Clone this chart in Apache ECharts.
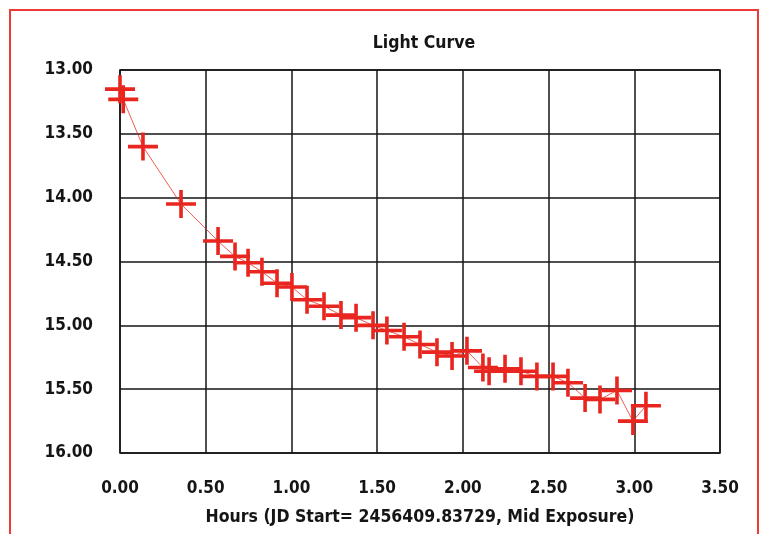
<!DOCTYPE html>
<html>
<head>
<meta charset="utf-8">
<title>Light Curve</title>
<script src="https://cdn.jsdelivr.net/npm/echarts@6/dist/echarts.min.js"></script>
<style>
  html, body { margin: 0; padding: 0; background: #ffffff; }
  #chart { width: 766px; height: 534px; }
</style>
</head>
<body>
<div id="chart"></div>
<script>
// Observation times (hours from JD start) and measured magnitudes
const hours = [
  0.000, 0.019, 0.134, 0.356, 0.572, 0.671, 0.747, 0.828, 0.916, 1.003,
  1.091, 1.190, 1.289, 1.377, 1.476, 1.557, 1.657, 1.750, 1.849, 1.937,
  2.024, 2.117, 2.153, 2.246, 2.339, 2.432, 2.526, 2.613, 2.713, 2.800,
  2.899, 2.992, 3.068
];
const magnitudes = [
  13.15, 13.23, 13.60, 14.05, 14.34, 14.46, 14.51, 14.58, 14.67, 14.70,
  14.80, 14.85, 14.92, 14.94, 15.00, 15.04, 15.09, 15.15, 15.21, 15.24,
  15.20, 15.33, 15.36, 15.34, 15.36, 15.40, 15.40, 15.45, 15.57, 15.58,
  15.51, 15.75, 15.63
];
const xTicks = ['0.00', '0.50', '1.00', '1.50', '2.00', '2.50', '3.00', '3.50'];
const yTicks = ['13.00', '13.50', '14.00', '14.50', '15.00', '15.50', '16.00'];

const titleText = 'Light Curve';
const xAxisName = 'Hours (JD Start= 2456409.83729, Mid Exposure)';

const FONT = '"DejaVu Sans Condensed", "Liberation Sans Narrow", "DejaVu Sans", sans-serif';
const RED = '#e8261f';
const INK = '#151515';

// Plus-shaped marker built from two filled bars
const plusPath = 'path://M0,12.2h30v3.6h-30z M13.2,0h3.6v28h-3.6z';

const chart = echarts.init(document.getElementById('chart'), null, { renderer: 'canvas' });

const points = hours.map((h, i) => [h, magnitudes[i]]);

chart.setOption({
  backgroundColor: '#ffffff',
  animation: false,
  title: {
    text: titleText,
    left: 419,
    textAlign: 'center',
    top: 29,
    textStyle: { fontFamily: FONT, fontWeight: 'bold', fontSize: 17.5, color: INK }
  },
  grid: { left: 120, right: 46, top: 70, bottom: 81, show: true, borderColor: INK, borderWidth: 1.5 },
  xAxis: {
    type: 'value',
    min: 0,
    max: 3.5,
    interval: 0.5,
    name: xAxisName,
    nameLocation: 'middle',
    nameGap: 55,
    nameTextStyle: { fontFamily: FONT, fontWeight: 'bold', fontSize: 17.5, color: INK },
    axisLine: { show: false },
    axisTick: { show: false },
    splitLine: { show: true, lineStyle: { color: INK, width: 1.5 } },
    axisLabel: {
      margin: 27,
      fontFamily: FONT, fontWeight: 'bold', fontSize: 17, color: INK,
      formatter: v => xTicks[Math.round(v / 0.5)]
    }
  },
  yAxis: {
    type: 'value',
    inverse: true,
    min: 13,
    max: 16,
    interval: 0.5,
    axisLine: { show: false },
    axisTick: { show: false },
    splitLine: { show: true, lineStyle: { color: INK, width: 1.5 } },
    axisLabel: {
      margin: 27,
      fontFamily: FONT, fontWeight: 'bold', fontSize: 17, color: INK,
      formatter: v => yTicks[Math.round((v - 13) / 0.5)]
    }
  },
  series: [{
    type: 'line',
    data: points,
    symbol: plusPath,
    symbolSize: [30, 28],
    showAllSymbol: true,
    lineStyle: { color: RED, width: 1, opacity: 0.75 },
    itemStyle: { color: RED, borderWidth: 0 },
    z: 3
  }],
  graphic: [{
    type: 'rect',
    shape: { x: 10, y: 10, width: 748, height: 560 },
    style: { fill: 'none', stroke: '#ef3a36', lineWidth: 2 },
    silent: true,
    z: 10
  }]
});
</script>
</body>
</html>
